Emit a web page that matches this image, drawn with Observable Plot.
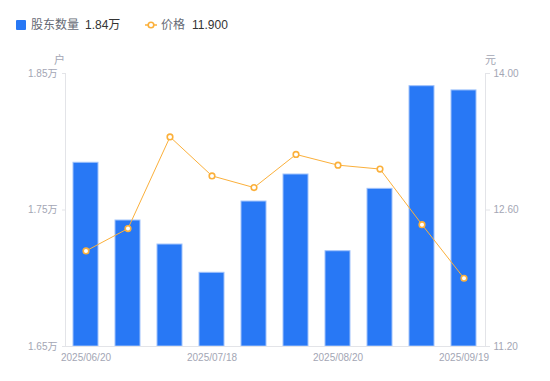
<!DOCTYPE html>
<html>
<head>
<meta charset="utf-8">
<script src="https://cdn.jsdelivr.net/npm/d3@7"></script>
<script src="https://cdn.jsdelivr.net/npm/@observablehq/plot@0.6"></script>
<style>
  html, body { margin: 0; padding: 0; background: #fff; }
  body { width: 550px; height: 381px; overflow: hidden; font-family: "Liberation Sans", Arial, "Noto Sans CJK SC", sans-serif; }
  #legend { position: relative; height: 45px; font-size: 12px; }
  #legend span { position: absolute; top: 18px; line-height: 14px; white-space: nowrap; }
  .sw { position: absolute; left: 16px; top: 20px; width: 10px; height: 10px; background: #2878f5; border-radius: 1px; }
  .lk { color: #666a75; }
  .lv { color: #333; }
  #chart svg { display: block; }
</style>
</head>
<body>
<div id="legend">
  <div class="sw"></div>
  <span class="lk" style="left:31px">股东数量</span>
  <span class="lv" style="left:85px">1.84万</span>
  <svg style="position:absolute;left:145px;top:20px" width="12" height="10">
    <line x1="0" y1="5" x2="12" y2="5" stroke="#fbb03b" stroke-width="1.5"></line>
    <circle cx="6" cy="5" r="2.8" fill="#fff" stroke="#fbb03b" stroke-width="1.6"></circle>
  </svg>
  <span class="lk" style="left:161px">价格</span>
  <span class="lv" style="left:192px">11.900</span>
</div>
<div id="chart"></div>
<script>
const dates = ["2025/06/20","2025/06/30","2025/07/10","2025/07/18","2025/07/31","2025/08/10","2025/08/20","2025/08/31","2025/09/10","2025/09/19"];
const holders = [17846, 17423, 17247, 17040, 17562, 17760, 17198, 17655, 18407, 18376];
const prices = [12.18, 12.41, 13.35, 12.95, 12.83, 13.17, 13.06, 13.02, 12.45, 11.90];
const leftTicks = [16500, 17500, 18500];
const rightTicks = [11.2, 12.6, 14.0];
const xTicks = ["2025/06/20","2025/07/18","2025/08/20","2025/09/19"];

const L0 = 16500, L1 = 18500, R0 = 11.2, R1 = 14.0;
const toLeft = p => L0 + (p - R0) / (R1 - R0) * (L1 - L0);
const toRight = v => R0 + (v - L0) / (L1 - L0) * (R1 - R0);

const data = dates.map((d, i) => ({date: d, holders: holders[i], price: prices[i], py: toLeft(prices[i])}));

const axisColor = "#e3e4e8";
const textColor = "#a3a6b4";
const blue = "#2878f5";
const orange = "#fbb03b";

const chart = Plot.plot({
  width: 550,
  height: 336,
  marginLeft: 65,
  marginRight: 65,
  marginTop: 28,
  marginBottom: 35,
  style: {fontFamily: '"Liberation Sans", Arial, "Noto Sans CJK SC", sans-serif', fontSize: "10px", background: "#fff"},
  x: {type: "band", domain: dates, paddingInner: 0.4, paddingOuter: 0.2, axis: null},
  y: {domain: [L0, L1], axis: null},
  marks: [
    Plot.barY(data, {x: "date", y1: L0, y2: "holders", fill: blue, stroke: "#9fc2fb", strokeWidth: 1}),
    Plot.frame({anchor: "left", stroke: axisColor}),
    Plot.frame({anchor: "right", stroke: axisColor}),
    Plot.frame({anchor: "bottom", stroke: axisColor}),
    Plot.axisY(leftTicks, {anchor: "left", tickSize: 3, tickPadding: 5, stroke: axisColor, fill: textColor, label: null,
      tickFormat: d => (d / 10000).toFixed(2) + "万"}),
    Plot.axisY(rightTicks.map(toLeft), {anchor: "right", tickSize: 4, tickPadding: 4, stroke: axisColor, fill: textColor, label: null,
      tickFormat: d => toRight(d).toFixed(2)}),
    Plot.axisX(xTicks, {anchor: "bottom", tickSize: 0, tickPadding: 7, fill: textColor, label: null}),
    Plot.text(["户"], {frameAnchor: "top-left", dx: -6, dy: -17, fill: textColor, fontSize: 11, textAnchor: "middle"}),
    Plot.text(["元"], {frameAnchor: "top-right", dx: 5, dy: -17, fill: textColor, fontSize: 11, textAnchor: "middle"}),
    Plot.line(data, {x: "date", y: "py", stroke: orange, strokeWidth: 1}),
    Plot.dot(data, {x: "date", y: "py", r: 2.8, fill: "#fff", stroke: orange, strokeWidth: 1.6})
  ]
});
document.getElementById("chart").appendChild(chart);
</script>
</body>
</html>
